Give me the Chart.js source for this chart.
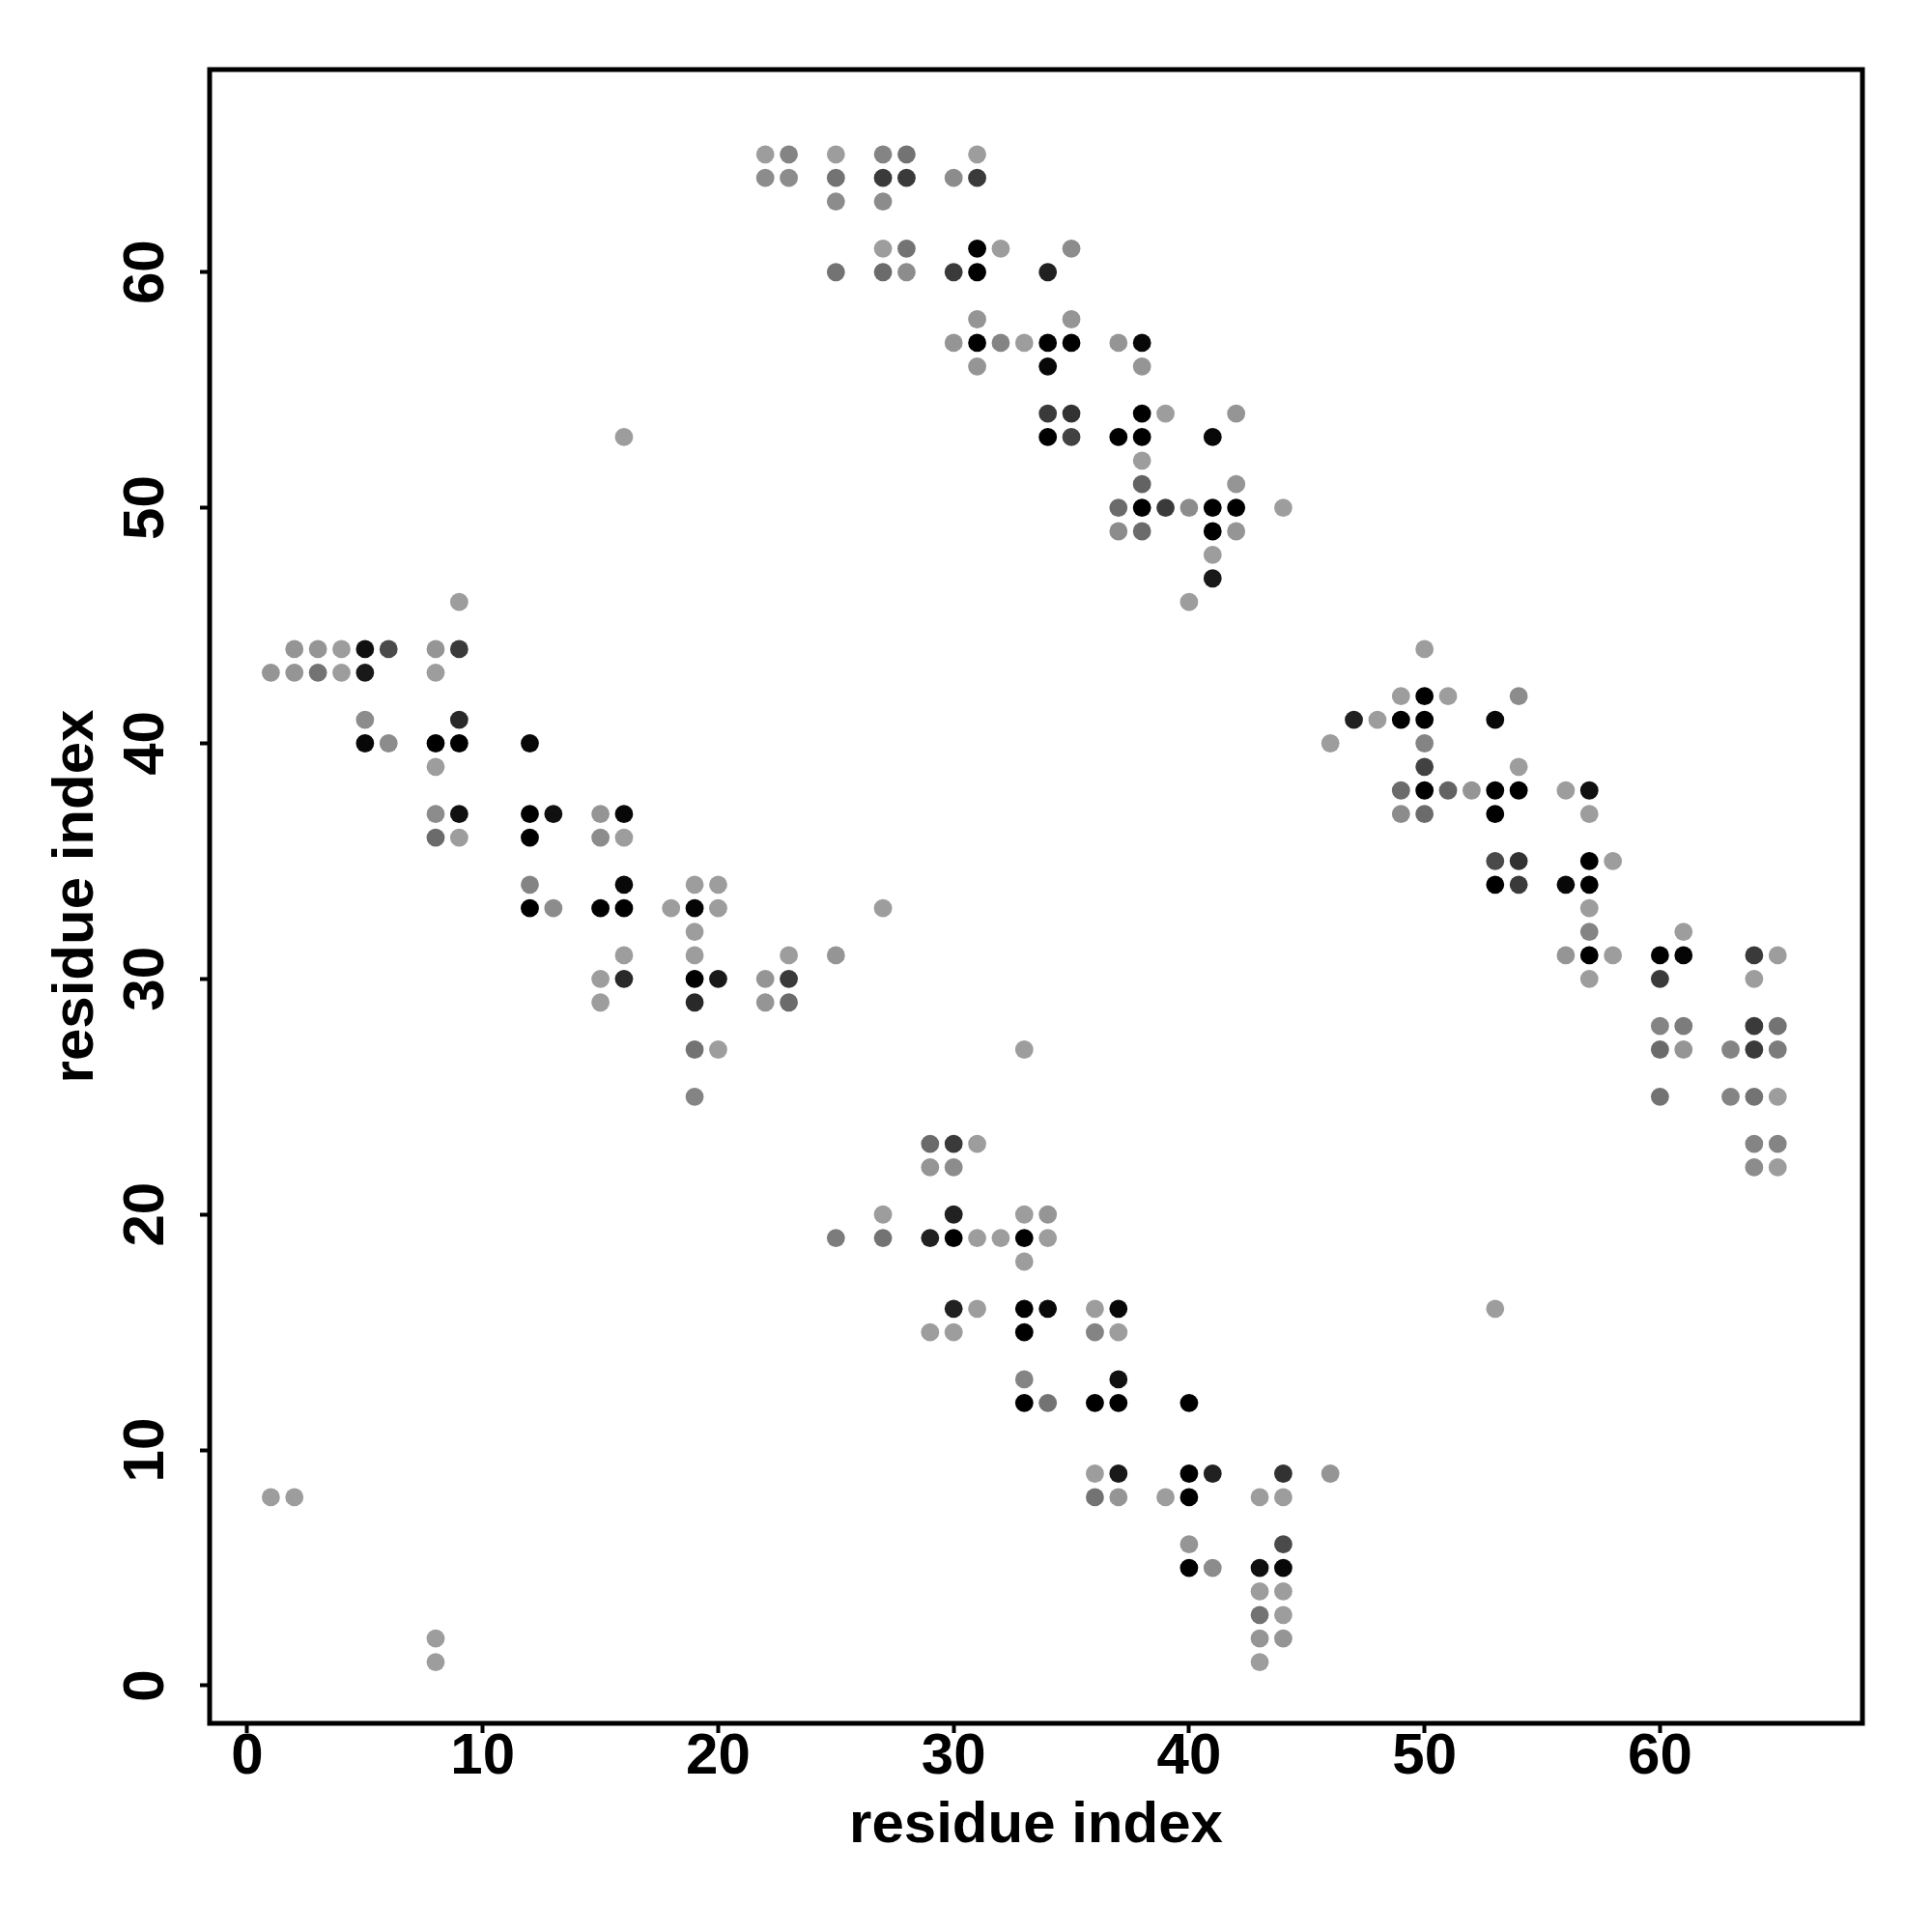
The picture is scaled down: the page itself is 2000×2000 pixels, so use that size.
<!DOCTYPE html>
<html>
<head>
<meta charset="utf-8">
<script src="https://cdn.jsdelivr.net/npm/chart.js@4"></script>
<style>
  html, body { margin: 0; padding: 0; background: #fff; }
  #wrap { width: 2000px; height: 2000px; }
</style>
</head>
<body>
<div id="wrap"><canvas id="myChart" width="2000" height="2000"></canvas></div>
<script>
// contact map: one row per residue j, residues i in contact with it, and contact strength (0 weak .. 1 strong)
const rowY = [65, 64, 63, 61, 60, 58, 57, 56, 54, 53, 52, 51, 50, 49, 48, 47, 46, 44, 43, 42, 41, 40, 39, 38, 37, 36, 35, 34, 33, 32, 31, 30, 29, 28, 27, 25, 23, 22, 20, 19, 18, 16, 15, 13, 12, 9, 8, 6, 5, 4, 3, 2, 1];
const rowX = [
  [22, 23, 25, 27, 28, 31],
  [22, 23, 25, 27, 28, 30, 31],
  [25, 27],
  [27, 28, 31, 32, 35],
  [25, 27, 28, 30, 31, 34],
  [31, 35],
  [30, 31, 32, 33, 34, 35, 37, 38],
  [31, 34, 38],
  [34, 35, 38, 39, 42],
  [16, 34, 35, 37, 38, 41],
  [38],
  [38, 42],
  [37, 38, 39, 40, 41, 42, 44],
  [37, 38, 41, 42],
  [41],
  [41],
  [9, 40],
  [2, 3, 4, 5, 6, 8, 9, 50],
  [1, 2, 3, 4, 5, 8],
  [49, 50, 51, 54],
  [5, 9, 47, 48, 49, 50, 53],
  [5, 6, 8, 9, 12, 46, 50],
  [8, 50, 54],
  [49, 50, 51, 52, 53, 54, 56, 57],
  [8, 9, 12, 13, 15, 16, 49, 50, 53, 57],
  [8, 9, 12, 15, 16],
  [53, 54, 57, 58],
  [12, 16, 19, 20, 53, 54, 56, 57],
  [12, 13, 15, 16, 18, 19, 20, 27, 57],
  [19, 57, 61],
  [16, 19, 23, 25, 56, 57, 58, 60, 61, 64, 65],
  [15, 16, 19, 20, 22, 23, 57, 60, 64],
  [15, 19, 22, 23],
  [60, 61, 64, 65],
  [19, 20, 33, 60, 61, 63, 64, 65],
  [19, 60, 63, 64, 65],
  [29, 30, 31, 64, 65],
  [29, 30, 64, 65],
  [27, 30, 33, 34],
  [25, 27, 29, 30, 31, 32, 33, 34],
  [33],
  [30, 31, 33, 34, 36, 37, 53],
  [29, 30, 33, 36, 37],
  [33, 37],
  [33, 34, 36, 37, 40],
  [36, 37, 40, 41, 44, 46],
  [1, 2, 36, 37, 39, 40, 43, 44],
  [40, 44],
  [40, 41, 43, 44],
  [43, 44],
  [43, 44],
  [8, 43, 44],
  [8, 43]
];
const rowStrength = [
  [.05, .2, .05, .2, .3, .05],
  [.15, .15, .3, .65, .65, .15, .65],
  [.15, .15],
  [.05, .3, 1, .05, .15],
  [.3, .35, .15, .65, 1, .8],
  [.1, .1],
  [.1, 1, .2, .05, 1, 1, .1, .95],
  [.1, .95, .1],
  [.65, .7, 1, .05, .1],
  [.05, 1, .6, 1, 1, .95],
  [.05],
  [.4, .1],
  [.35, 1, .65, .15, 1, 1, .05],
  [.15, .35, 1, .1],
  [.05],
  [.85],
  [.05, .05],
  [.1, .1, .05, .9, .55, .1, .65, .05],
  [.1, .1, .3, .05, .85, .05],
  [.05, 1, .05, .15],
  [.15, .75, .8, .05, 1, 1, .95],
  [.95, .15, 1, 1, .95, .05, .2],
  [.05, .6, .05],
  [.35, 1, .4, .1, 1, 1, .05, .9],
  [.15, .9, 1, .9, .1, .95, .15, .35, 1, .05],
  [.35, .05, 1, .15, .05],
  [.55, .7, 1, .05],
  [.2, .95, .05, .05, 1, .65, .95, 1],
  [1, .15, 1, 1, .05, .97, .05, .05, .05],
  [.05, .2, .05],
  [.05, .05, .05, .1, .1, 1, .05, 1, .97, .65, .05],
  [.05, .75, 1, .85, .1, .65, .05, .65, .05],
  [.05, .75, .1, .35],
  [.2, .25, .65, .3],
  [.3, .05, .05, .35, .1, .2, .65, .25],
  [.2, .3, .2, .3, .05],
  [.35, .65, .05, .2, .2],
  [.1, .15, .15, .05],
  [.05, .8, .05, .1],
  [.25, .3, .8, 1, .05, .05, 1, .05],
  [.05],
  [.8, .05, 1, .95, .05, .95, .05],
  [.05, .05, 1, .2, .05],
  [.2, .9],
  [1, .3, 1, 1, 1],
  [.05, .85, 1, .8, .7, .1],
  [.05, .05, .3, .1, .05, 1, .05, .05],
  [.1, .55],
  [1, .15, .9, .95],
  [.05, .05],
  [.3, .05],
  [.05, .1, .1],
  [.05, .05]
];
const tickValues = [0, 10, 20, 30, 40, 50, 60];
const axisMin = -1.6;
const axisMax = 68.6;

const points = [];
rowY.forEach(function (y, r) {
  rowX[r].forEach(function (x, k) {
    points.push({ x: x, y: y, s: rowStrength[r][k] });
  });
});

function greyOf(s) {
  const g = Math.round(165 * (1 - s));
  return 'rgb(' + g + ',' + g + ',' + g + ')';
}

// box around the plot region, like R's box()
const boxPlugin = {
  id: 'box',
  afterDatasetsDraw(chart) {
    const a = chart.chartArea;
    const ctx = chart.ctx;
    ctx.save();
    ctx.strokeStyle = '#000';
    ctx.lineWidth = 5;
    ctx.strokeRect(a.left, a.top, a.right - a.left, a.bottom - a.top);
    ctx.restore();
  }
};

const tickFont = { family: '"Liberation Sans", Arial, sans-serif', size: 60, weight: 'bold', lineHeight: 1 };
const titleFont = { family: '"Liberation Sans", Arial, sans-serif', size: 60, weight: 'bold' };

new Chart(document.getElementById('myChart'), {
  type: 'scatter',
  data: {
    datasets: [{
      data: points,
      pointRadius: 9.4,
      pointHoverRadius: 9.4,
      borderWidth: 0,
      pointBackgroundColor: points.map(p => greyOf(p.s)),
      pointBorderColor: 'rgba(0,0,0,0)'
    }]
  },
  options: {
    responsive: false,
    animation: false,
    devicePixelRatio: 1,
    layout: { padding: { top: 72, right: 72, left: 0, bottom: 0 } },
    plugins: {
      legend: { display: false },
      tooltip: { enabled: false }
    },
    scales: {
      x: {
        type: 'linear',
        min: axisMin,
        max: axisMax,
        afterBuildTicks: axis => { axis.ticks = tickValues.map(v => ({ value: v })); },
        afterFit: axis => { axis.height = 216; },
        grid: { drawOnChartArea: false, drawTicks: true, tickLength: 10, tickWidth: 4, tickColor: '#000' },
        border: { display: false },
        ticks: { color: '#000', font: tickFont, padding: -5, maxRotation: 0, minRotation: 0 },
        title: { display: true, text: 'residue index', color: '#000', font: titleFont, padding: { top: 0, bottom: 74 } }
      },
      y: {
        type: 'linear',
        min: axisMin,
        max: axisMax,
        afterBuildTicks: axis => { axis.ticks = tickValues.map(v => ({ value: v })); },
        afterFit: axis => { axis.width = 217; },
        grid: { drawOnChartArea: false, drawTicks: true, tickLength: 10, tickWidth: 4, tickColor: '#000' },
        border: { display: false },
        ticks: { color: '#000', font: tickFont, padding: 21, minRotation: 90, maxRotation: 90, crossAlign: 'center' },
        title: { display: true, text: 'residue index', color: '#000', font: titleFont, padding: { top: 43, bottom: 0 } }
      }
    }
  },
  plugins: [boxPlugin]
});
</script>
</body>
</html>
